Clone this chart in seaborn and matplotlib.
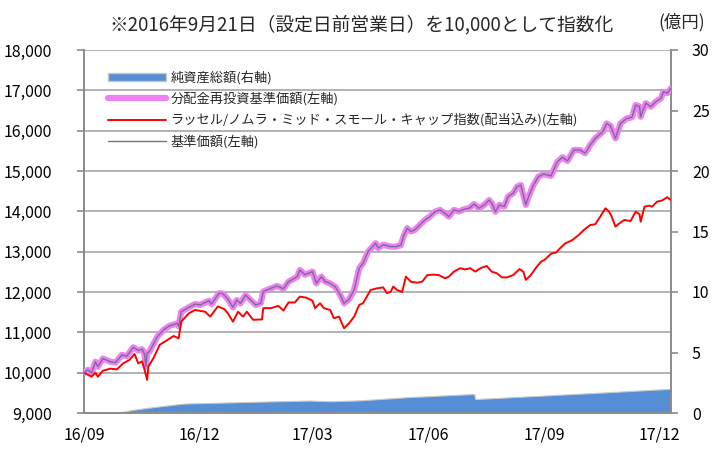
import pandas as pd
import matplotlib
matplotlib.use("Agg")
import matplotlib.pyplot as plt
import seaborn as sns
from matplotlib.patches import Patch
from matplotlib.lines import Line2D

# 分配金再投資基準価額 (左軸)
nav_dates = [
    "2016-09-21", "2016-09-24", "2016-09-27", "2016-09-30", "2016-10-02", "2016-10-06",
    "2016-10-12", "2016-10-16", "2016-10-21", "2016-10-25", "2016-10-30", "2016-11-03",
    "2016-11-06", "2016-11-08", "2016-11-09", "2016-11-10", "2016-11-12", "2016-11-18",
    "2016-11-23", "2016-11-28", "2016-12-04", "2016-12-05", "2016-12-07", "2016-12-13",
    "2016-12-18", "2016-12-22", "2016-12-29", "2016-12-31", "2017-01-06", "2017-01-09",
    "2017-01-13", "2017-01-17", "2017-01-20", "2017-01-23", "2017-01-27", "2017-01-31",
    "2017-02-04", "2017-02-08", "2017-02-10", "2017-02-16", "2017-02-21", "2017-02-26",
    "2017-03-02", "2017-03-09", "2017-03-11", "2017-03-15", "2017-03-21", "2017-03-24",
    "2017-03-28", "2017-03-31", "2017-04-04", "2017-04-08", "2017-04-12", "2017-04-15",
    "2017-04-19", "2017-04-23", "2017-04-27", "2017-04-30", "2017-05-04", "2017-05-10",
    "2017-05-12", "2017-05-16", "2017-05-22", "2017-05-26", "2017-05-30", "2017-06-01",
    "2017-06-04", "2017-06-07", "2017-06-10", "2017-06-14", "2017-06-18", "2017-06-22",
    "2017-06-26", "2017-06-30", "2017-07-04", "2017-07-07", "2017-07-11", "2017-07-15",
    "2017-07-19", "2017-07-23", "2017-07-27", "2017-07-31", "2017-08-04", "2017-08-08",
    "2017-08-10", "2017-08-13", "2017-08-16", "2017-08-20", "2017-08-23", "2017-08-27",
    "2017-08-30", "2017-09-02", "2017-09-04", "2017-09-06", "2017-09-08", "2017-09-12",
    "2017-09-16", "2017-09-20", "2017-09-26", "2017-09-28", "2017-10-01", "2017-10-05",
    "2017-10-09", "2017-10-14", "2017-10-19", "2017-10-23", "2017-10-27", "2017-10-31",
    "2017-11-06", "2017-11-09", "2017-11-12", "2017-11-16", "2017-11-20", "2017-11-25",
    "2017-11-29", "2017-12-02", "2017-12-05", "2017-12-06", "2017-12-10", "2017-12-14",
    "2017-12-18", "2017-12-22", "2017-12-24", "2017-12-27", "2017-12-30",
]
nav_values = [
    10000, 10070, 9990, 10270, 10150, 10350,
    10270, 10250, 10440, 10410, 10630, 10550,
    10580, 10460, 10150, 10480, 10530, 10890,
    11060, 11165, 11220, 11150, 11510, 11620,
    11700, 11680, 11785, 11700, 11970, 11960,
    11820, 11620, 11800, 11720, 11925, 11800,
    11680, 11720, 12010, 12090, 12150, 12080,
    12255, 12380, 12545, 12430, 12505, 12215,
    12380, 12260, 12215, 12130, 11925, 11720,
    11820, 12050, 12590, 12710, 13000, 13210,
    13090, 13170, 13125, 13125, 13160, 13375,
    13580, 13500, 13540, 13660, 13785, 13870,
    13990, 14035, 13950, 13870, 14035, 14000,
    14050, 14075, 14180, 14075, 14160, 14280,
    14200, 13990, 14160, 14120, 14365, 14450,
    14610, 14650, 14405, 14160, 14350, 14650,
    14860, 14925, 14880, 15025, 15230, 15340,
    15250, 15520, 15520, 15440, 15645, 15810,
    15975, 16180, 16120, 15810, 16180, 16305,
    16330, 16635, 16600, 16345, 16680, 16595,
    16720, 16800, 16965, 16930, 17050,
]
# 基準価額 (左軸) - 分配実績なしのため同値
base_values = list(nav_values)

# ラッセル/ノムラ・ミッド・スモール・キャップ指数(配当込み) (左軸)
idx_dates = [
    "2016-09-21", "2016-09-27", "2016-09-30", "2016-10-02", "2016-10-06", "2016-10-12",
    "2016-10-17", "2016-10-22", "2016-10-27", "2016-10-31", "2016-11-03", "2016-11-06",
    "2016-11-08", "2016-11-10", "2016-11-11", "2016-11-15", "2016-11-20", "2016-11-26",
    "2016-12-01", "2016-12-05", "2016-12-07", "2016-12-13", "2016-12-18", "2016-12-26",
    "2016-12-30", "2017-01-05", "2017-01-10", "2017-01-13", "2017-01-17", "2017-01-21",
    "2017-01-25", "2017-01-28", "2017-02-02", "2017-02-09", "2017-02-10", "2017-02-16",
    "2017-02-22", "2017-02-26", "2017-03-02", "2017-03-07", "2017-03-11", "2017-03-16",
    "2017-03-21", "2017-03-23", "2017-03-27", "2017-03-30", "2017-04-04", "2017-04-07",
    "2017-04-11", "2017-04-15", "2017-04-19", "2017-04-23", "2017-04-27", "2017-04-30",
    "2017-05-06", "2017-05-11", "2017-05-16", "2017-05-19", "2017-05-22", "2017-05-24",
    "2017-05-27", "2017-05-31", "2017-06-03", "2017-06-07", "2017-06-12", "2017-06-16",
    "2017-06-20", "2017-06-25", "2017-06-29", "2017-07-04", "2017-07-07", "2017-07-11",
    "2017-07-16", "2017-07-20", "2017-07-24", "2017-07-28", "2017-08-01", "2017-08-06",
    "2017-08-10", "2017-08-14", "2017-08-18", "2017-08-22", "2017-08-27", "2017-09-01",
    "2017-09-04", "2017-09-06", "2017-09-10", "2017-09-14", "2017-09-18", "2017-09-21",
    "2017-09-26", "2017-09-30", "2017-10-03", "2017-10-07", "2017-10-13", "2017-10-18",
    "2017-10-22", "2017-10-27", "2017-10-31", "2017-11-04", "2017-11-08", "2017-11-11",
    "2017-11-13", "2017-11-16", "2017-11-19", "2017-11-23", "2017-11-28", "2017-12-02",
    "2017-12-05", "2017-12-06", "2017-12-09", "2017-12-13", "2017-12-15", "2017-12-19",
    "2017-12-23", "2017-12-27", "2017-12-30",
]
idx_values = [
    10000, 9900, 10000, 9900, 10050, 10100,
    10080, 10230, 10315, 10465, 10230, 10280,
    10070, 9820, 10150, 10360, 10690, 10810,
    10910, 10850, 11265, 11470, 11555, 11510,
    11390, 11640, 11580, 11470, 11265, 11510,
    11390, 11510, 11310, 11320, 11600, 11600,
    11655, 11540, 11740, 11740, 11885, 11860,
    11785, 11600, 11720, 11600, 11555, 11350,
    11390, 11100, 11225, 11390, 11680, 11720,
    12050, 12090, 12115, 11970, 12010, 12135,
    12050, 12000, 12380, 12255, 12230, 12260,
    12420, 12430, 12420, 12340, 12380, 12505,
    12590, 12560, 12590, 12505, 12590, 12645,
    12505, 12465, 12365, 12360, 12420, 12570,
    12505, 12300, 12420, 12600, 12750, 12800,
    12950, 12980, 13080, 13200, 13290, 13415,
    13540, 13660, 13680, 13870, 14075, 13990,
    13870, 13620, 13700, 13785, 13760, 13990,
    13930, 13745, 14115, 14140, 14115, 14240,
    14270, 14350, 14280,
]

# 純資産総額 (右軸, 億円)
asset_dates = [
    "2016-09-21", "2016-10-17", "2016-10-29", "2016-11-12", "2016-12-09", "2017-01-31",
    "2017-03-19", "2017-04-04", "2017-04-28", "2017-06-03", "2017-07-27", "2017-07-28",
    "2017-11-07", "2017-12-30",
]
asset_values = [0, 0, 0.25, 0.45, 0.78, 0.92, 1.03, 0.97, 1.05, 1.3, 1.57, 1.15, 1.7, 2.0]

tick_dates = ["2016-09-21", "2016-12-21", "2017-03-21", "2017-06-21", "2017-09-21", "2017-12-21"]
tick_labels = ["16/09", "16/12", "17/03", "17/06", "17/09", "17/12"]

labels = ["純資産総額(右軸)", "分配金再投資基準価額(左軸)",
          "ラッセル/ノムラ・ミッド・スモール・キャップ指数(配当込み)(左軸)", "基準価額(左軸)"]

sns.set_theme(style="white")
plt.rcParams["font.family"] = ["Noto Sans CJK JP", "DejaVu Sans"]

nav_df = pd.DataFrame({"date": pd.to_datetime(nav_dates), "nav": nav_values, "base": base_values})
idx_df = pd.DataFrame({"date": pd.to_datetime(idx_dates), "idx": idx_values})
asset_df = pd.DataFrame({"date": pd.to_datetime(asset_dates), "asset": asset_values})

fig = plt.figure(figsize=(7.25, 4.51), dpi=100)
ax = fig.add_axes([84 / 725, 38 / 451, 587 / 725, 363 / 451])
ax2 = ax.twinx()

# 右軸の面グラフを背面に
ax2.fill_between(asset_df["date"], 0, asset_df["asset"], color="#558ED5",
                 edgecolor="#C8C8C8", linewidth=0.8, zorder=1)
ax2.set_ylim(0, 30)
ax2.set_yticks(range(0, 31, 5))
ax.set_zorder(ax2.get_zorder() + 1)
ax.patch.set_visible(False)

sns.lineplot(data=nav_df, x="date", y="nav", ax=ax, color="#EE82EE", linewidth=4.5,
             solid_capstyle="round", zorder=3)
sns.lineplot(data=idx_df, x="date", y="idx", ax=ax, color="#FF0000", linewidth=1.4, zorder=4)
sns.lineplot(data=nav_df, x="date", y="base", ax=ax, color="#7B6A9E", linewidth=1.0, zorder=5)

ax.set_ylim(9000, 18000)
ax.set_yticks(range(9000, 18001, 1000))
ax.set_yticklabels([f"{v:,}" for v in range(9000, 18001, 1000)])
ax.set_xlim(pd.Timestamp("2016-09-21"), pd.Timestamp("2017-12-30"))
ax.set_xticks(pd.to_datetime(tick_dates))
ax.set_xticklabels(tick_labels)
ax.set_xlabel("")
ax.set_ylabel("")
ax.yaxis.grid(True, color="#A6A6A6", linewidth=1.2)
ax.set_axisbelow(True)

for a in (ax, ax2):
    a.spines["top"].set_visible(False)
    for side in ("left", "right", "bottom"):
        a.spines[side].set_color("#8C8C8C")
        a.spines[side].set_linewidth(1.3)
    a.tick_params(axis="both", which="both", labelsize=11.5, colors="#000000",
                  length=5, width=1.2, color="#8C8C8C", direction="out")
    a.grid(False, axis="x")
ax2.grid(False)
ax.tick_params(axis="y", pad=18)
ax2.tick_params(axis="y", pad=10)
ax.tick_params(axis="x", pad=5)

handles = [
    Patch(facecolor="#558ED5", edgecolor="#C8C8C8"),
    Line2D([], [], color="#EE82EE", linewidth=4.5, solid_capstyle="round"),
    Line2D([], [], color="#FF0000", linewidth=1.4),
    Line2D([], [], color="#7B6A9E", linewidth=1.0),
]
ax.legend(handles, labels, loc="upper left", bbox_to_anchor=(0.02, 0.975), frameon=False,
          fontsize=9.5, handlelength=4.4, handleheight=0.6, handletextpad=0.35,
          labelspacing=0.55)

fig.text(361 / 725, 1 - 25 / 451, "※2016年9月21日（設定日前営業日）を10,000として指数化",
         ha="center", va="center", fontsize=13.5)
fig.text(682 / 725, 1 - 22 / 451, "(億円)", ha="center", va="center", fontsize=12.5)

fig.savefig("out.png", dpi=100)
